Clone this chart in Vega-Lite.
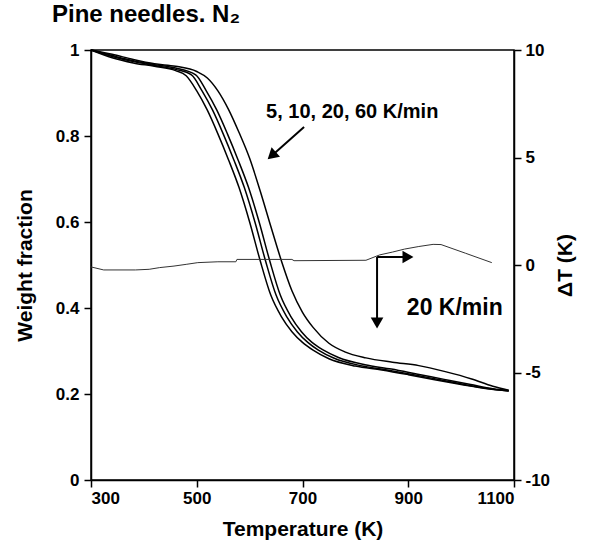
{
  "$schema": "https://vega.github.io/schema/vega-lite/v6.json",
  "width": 423,
  "height": 430,
  "autosize": {"type": "none"},
  "padding": {"left": 91, "top": 50, "right": 76, "bottom": 66},
  "config": {
    "font": "Liberation Sans",
    "view": {"stroke": "black", "strokeWidth": 1.5},
    "axis": {
      "domainColor": "black", "domainWidth": 1.5, "tickColor": "black", "tickWidth": 1.5,
      "tickSize": 7, "labelFont": "Liberation Sans", "labelFontSize": 17, "labelFontWeight": "bold",
      "labelColor": "black", "titleFont": "Liberation Sans", "titleFontSize": 21, "titleFontWeight": "bold",
      "titleColor": "black", "grid": false
    },
    "title": {"font": "Liberation Sans", "fontSize": 24, "fontWeight": "bold", "color": "black", "anchor": "start", "frame": "group"}
  },
  "title": {"text": "Pine needles. N₂", "dx": -39, "offset": 14},
  "datasets": {
    "tga": [
      {"rate": "5", "T": 300, "w": 1.0}, {"rate": "5", "T": 340, "w": 0.982}, {"rate": "5", "T": 380, "w": 0.970},
      {"rate": "5", "T": 420, "w": 0.962}, {"rate": "5", "T": 460, "w": 0.952}, {"rate": "5", "T": 480, "w": 0.940},
      {"rate": "5", "T": 500, "w": 0.905}, {"rate": "5", "T": 520, "w": 0.860}, {"rate": "5", "T": 540, "w": 0.805},
      {"rate": "5", "T": 560, "w": 0.745}, {"rate": "5", "T": 580, "w": 0.680}, {"rate": "5", "T": 600, "w": 0.600},
      {"rate": "5", "T": 620, "w": 0.510}, {"rate": "5", "T": 640, "w": 0.430}, {"rate": "5", "T": 660, "w": 0.380},
      {"rate": "5", "T": 680, "w": 0.345}, {"rate": "5", "T": 700, "w": 0.320}, {"rate": "5", "T": 720, "w": 0.302},
      {"rate": "5", "T": 750, "w": 0.282}, {"rate": "5", "T": 800, "w": 0.265}, {"rate": "5", "T": 850, "w": 0.256},
      {"rate": "5", "T": 900, "w": 0.245}, {"rate": "5", "T": 950, "w": 0.233}, {"rate": "5", "T": 1000, "w": 0.222},
      {"rate": "5", "T": 1050, "w": 0.212}, {"rate": "5", "T": 1090, "w": 0.207},

      {"rate": "10", "T": 300, "w": 1.0}, {"rate": "10", "T": 340, "w": 0.985}, {"rate": "10", "T": 380, "w": 0.973},
      {"rate": "10", "T": 420, "w": 0.964}, {"rate": "10", "T": 460, "w": 0.955}, {"rate": "10", "T": 490, "w": 0.942},
      {"rate": "10", "T": 510, "w": 0.905}, {"rate": "10", "T": 530, "w": 0.860}, {"rate": "10", "T": 550, "w": 0.805},
      {"rate": "10", "T": 570, "w": 0.745}, {"rate": "10", "T": 590, "w": 0.680}, {"rate": "10", "T": 610, "w": 0.600},
      {"rate": "10", "T": 630, "w": 0.510}, {"rate": "10", "T": 650, "w": 0.430}, {"rate": "10", "T": 670, "w": 0.380},
      {"rate": "10", "T": 690, "w": 0.345}, {"rate": "10", "T": 710, "w": 0.320}, {"rate": "10", "T": 730, "w": 0.302},
      {"rate": "10", "T": 760, "w": 0.283}, {"rate": "10", "T": 810, "w": 0.266}, {"rate": "10", "T": 860, "w": 0.256},
      {"rate": "10", "T": 910, "w": 0.245}, {"rate": "10", "T": 960, "w": 0.233}, {"rate": "10", "T": 1010, "w": 0.221},
      {"rate": "10", "T": 1050, "w": 0.213}, {"rate": "10", "T": 1090, "w": 0.207},

      {"rate": "20", "T": 300, "w": 1.0}, {"rate": "20", "T": 340, "w": 0.987}, {"rate": "20", "T": 380, "w": 0.975},
      {"rate": "20", "T": 420, "w": 0.966}, {"rate": "20", "T": 460, "w": 0.958}, {"rate": "20", "T": 498, "w": 0.942},
      {"rate": "20", "T": 518, "w": 0.905}, {"rate": "20", "T": 538, "w": 0.860}, {"rate": "20", "T": 558, "w": 0.805},
      {"rate": "20", "T": 578, "w": 0.745}, {"rate": "20", "T": 598, "w": 0.680}, {"rate": "20", "T": 618, "w": 0.600},
      {"rate": "20", "T": 638, "w": 0.510}, {"rate": "20", "T": 658, "w": 0.430}, {"rate": "20", "T": 678, "w": 0.380},
      {"rate": "20", "T": 698, "w": 0.345}, {"rate": "20", "T": 718, "w": 0.320}, {"rate": "20", "T": 738, "w": 0.303},
      {"rate": "20", "T": 768, "w": 0.285}, {"rate": "20", "T": 818, "w": 0.268}, {"rate": "20", "T": 868, "w": 0.258},
      {"rate": "20", "T": 918, "w": 0.246}, {"rate": "20", "T": 968, "w": 0.234}, {"rate": "20", "T": 1018, "w": 0.222},
      {"rate": "20", "T": 1060, "w": 0.212}, {"rate": "20", "T": 1090, "w": 0.208},

      {"rate": "60", "T": 300, "w": 1.0}, {"rate": "60", "T": 340, "w": 0.990}, {"rate": "60", "T": 380, "w": 0.978},
      {"rate": "60", "T": 420, "w": 0.968}, {"rate": "60", "T": 460, "w": 0.962}, {"rate": "60", "T": 500, "w": 0.950},
      {"rate": "60", "T": 520, "w": 0.935}, {"rate": "60", "T": 540, "w": 0.905}, {"rate": "60", "T": 560, "w": 0.862},
      {"rate": "60", "T": 580, "w": 0.808}, {"rate": "60", "T": 600, "w": 0.748}, {"rate": "60", "T": 620, "w": 0.672},
      {"rate": "60", "T": 640, "w": 0.590}, {"rate": "60", "T": 660, "w": 0.510}, {"rate": "60", "T": 680, "w": 0.440},
      {"rate": "60", "T": 700, "w": 0.390}, {"rate": "60", "T": 720, "w": 0.355}, {"rate": "60", "T": 750, "w": 0.318},
      {"rate": "60", "T": 780, "w": 0.298}, {"rate": "60", "T": 820, "w": 0.284}, {"rate": "60", "T": 870, "w": 0.274},
      {"rate": "60", "T": 920, "w": 0.266}, {"rate": "60", "T": 970, "w": 0.252}, {"rate": "60", "T": 1020, "w": 0.235},
      {"rate": "60", "T": 1060, "w": 0.218}, {"rate": "60", "T": 1090, "w": 0.209}
    ],
    "dta": [
      {"T": 300, "dT": -0.09}, {"T": 324, "dT": -0.23}, {"T": 384, "dT": -0.23}, {"T": 410, "dT": -0.2},
      {"T": 430, "dT": -0.12}, {"T": 457, "dT": -0.05}, {"T": 480, "dT": 0.03}, {"T": 502, "dT": 0.11},
      {"T": 540, "dT": 0.15}, {"T": 574, "dT": 0.15}, {"T": 576, "dT": 0.26}, {"T": 680, "dT": 0.26},
      {"T": 684, "dT": 0.2}, {"T": 820, "dT": 0.22}, {"T": 846, "dT": 0.47}, {"T": 870, "dT": 0.6},
      {"T": 893, "dT": 0.74}, {"T": 920, "dT": 0.86}, {"T": 947, "dT": 0.96}, {"T": 962, "dT": 0.95},
      {"T": 1008, "dT": 0.55}, {"T": 1058, "dT": 0.11}
    ],
    "labels": [
      {"label": "5, 10, 20, 60 K/min", "kind": "rates", "T": 794, "w": 0.855},
      {"label": "20 K/min", "kind": "dta", "T": 988, "w": 0.40}
    ],
    "arrows": [
      {"dir": "diag", "T": 703, "w": 0.821, "T2": 641.8, "w2": 0.7542},
      {"dir": "down", "T": 841, "w": 0.5186, "T2": 841, "w2": 0.3651},
      {"dir": "right", "T": 841, "w": 0.5186, "T2": 899.5, "w2": 0.5186}
    ]
  },
  "layer": [
    {
      "layer": [
        {
          "data": {"name": "tga"},
          "mark": {"type": "line", "color": "black", "strokeWidth": 1.5, "interpolate": "monotone"},
          "encoding": {
            "x": {"field": "T", "type": "quantitative", "scale": {"domain": [300, 1100], "nice": false},
              "axis": {"title": "Temperature  (K)", "values": [300, 500, 700, 900, 1100], "format": "d", "titlePadding": 12, "labelPadding": 3}},
            "y": {"field": "w", "type": "quantitative", "scale": {"domain": [0, 1], "nice": false},
              "axis": {"title": "Weight fraction", "values": [0, 0.2, 0.4, 0.6, 0.8, 1], "format": "~g", "titlePadding": 20, "labelPadding": 5}},
            "detail": {"field": "rate", "type": "nominal"}
          }
        },
        {
          "data": {"name": "arrows"},
          "mark": {"type": "rule", "color": "black", "strokeWidth": 2},
          "encoding": {
            "x": {"field": "T", "type": "quantitative", "scale": {"domain": [300, 1100], "nice": false},
              "axis": {"title": "Temperature  (K)", "values": [300, 500, 700, 900, 1100], "format": "d", "titlePadding": 12, "labelPadding": 3}},
            "y": {"field": "w", "type": "quantitative", "scale": {"domain": [0, 1], "nice": false},
              "axis": {"title": "Weight fraction", "values": [0, 0.2, 0.4, 0.6, 0.8, 1], "format": "~g", "titlePadding": 20, "labelPadding": 5}},
            "x2": {"field": "T2"},
            "y2": {"field": "w2"}
          }
        },
        {
          "data": {"name": "arrows"},
          "transform": [{"filter": "datum.dir === 'diag'"}],
          "mark": {"type": "point", "shape": "triangle-up", "angle": 228, "filled": true, "color": "black", "size": 160, "opacity": 1},
          "encoding": {
            "x": {"field": "T2", "type": "quantitative", "scale": {"domain": [300, 1100], "nice": false},
              "axis": {"title": "Temperature  (K)", "values": [300, 500, 700, 900, 1100], "format": "d", "titlePadding": 12, "labelPadding": 3}},
            "y": {"field": "w2", "type": "quantitative", "scale": {"domain": [0, 1], "nice": false},
              "axis": {"title": "Weight fraction", "values": [0, 0.2, 0.4, 0.6, 0.8, 1], "format": "~g", "titlePadding": 20, "labelPadding": 5}}
          }
        },
        {
          "data": {"name": "arrows"},
          "transform": [{"filter": "datum.dir === 'down'"}],
          "mark": {"type": "point", "shape": "triangle-down", "filled": true, "color": "black", "size": 160, "opacity": 1},
          "encoding": {
            "x": {"field": "T2", "type": "quantitative", "scale": {"domain": [300, 1100], "nice": false},
              "axis": {"title": "Temperature  (K)", "values": [300, 500, 700, 900, 1100], "format": "d", "titlePadding": 12, "labelPadding": 3}},
            "y": {"field": "w2", "type": "quantitative", "scale": {"domain": [0, 1], "nice": false},
              "axis": {"title": "Weight fraction", "values": [0, 0.2, 0.4, 0.6, 0.8, 1], "format": "~g", "titlePadding": 20, "labelPadding": 5}}
          }
        },
        {
          "data": {"name": "arrows"},
          "transform": [{"filter": "datum.dir === 'right'"}],
          "mark": {"type": "point", "shape": "triangle-right", "filled": true, "color": "black", "size": 160, "opacity": 1},
          "encoding": {
            "x": {"field": "T2", "type": "quantitative", "scale": {"domain": [300, 1100], "nice": false},
              "axis": {"title": "Temperature  (K)", "values": [300, 500, 700, 900, 1100], "format": "d", "titlePadding": 12, "labelPadding": 3}},
            "y": {"field": "w2", "type": "quantitative", "scale": {"domain": [0, 1], "nice": false},
              "axis": {"title": "Weight fraction", "values": [0, 0.2, 0.4, 0.6, 0.8, 1], "format": "~g", "titlePadding": 20, "labelPadding": 5}}
          }
        },
        {
          "data": {"name": "labels"},
          "mark": {"type": "text", "font": "Liberation Sans", "fontWeight": "bold", "color": "black", "align": "center", "baseline": "middle"},
          "encoding": {
            "x": {"field": "T", "type": "quantitative", "scale": {"domain": [300, 1100], "nice": false},
              "axis": {"title": "Temperature  (K)", "values": [300, 500, 700, 900, 1100], "format": "d", "titlePadding": 12, "labelPadding": 3}},
            "y": {"field": "w", "type": "quantitative", "scale": {"domain": [0, 1], "nice": false},
              "axis": {"title": "Weight fraction", "values": [0, 0.2, 0.4, 0.6, 0.8, 1], "format": "~g", "titlePadding": 20, "labelPadding": 5}},
            "text": {"field": "label", "type": "nominal"},
            "size": {"field": "kind", "type": "nominal", "scale": {"domain": ["rates", "dta"], "range": [20, 23]}, "legend": null}
          }
        }
      ]
    },
    {
      "data": {"name": "dta"},
      "mark": {"type": "line", "color": "#333333", "strokeWidth": 1},
      "encoding": {
        "x": {"field": "T", "type": "quantitative", "scale": {"domain": [300, 1100], "nice": false},
          "axis": {"title": "Temperature  (K)", "values": [300, 500, 700, 900, 1100], "format": "d", "titlePadding": 12, "labelPadding": 3}},
        "y": {"field": "dT", "type": "quantitative", "scale": {"domain": [-10, 10], "nice": false},
          "axis": {"orient": "right", "title": "ΔT (K)", "titleAngle": -90, "values": [-10, -5, 0, 5, 10], "labelExpr": "'' + datum.value", "titlePadding": 26, "labelPadding": 4}}
      }
    }
  ],
  "resolve": {"scale": {"y": "independent"}}
}
